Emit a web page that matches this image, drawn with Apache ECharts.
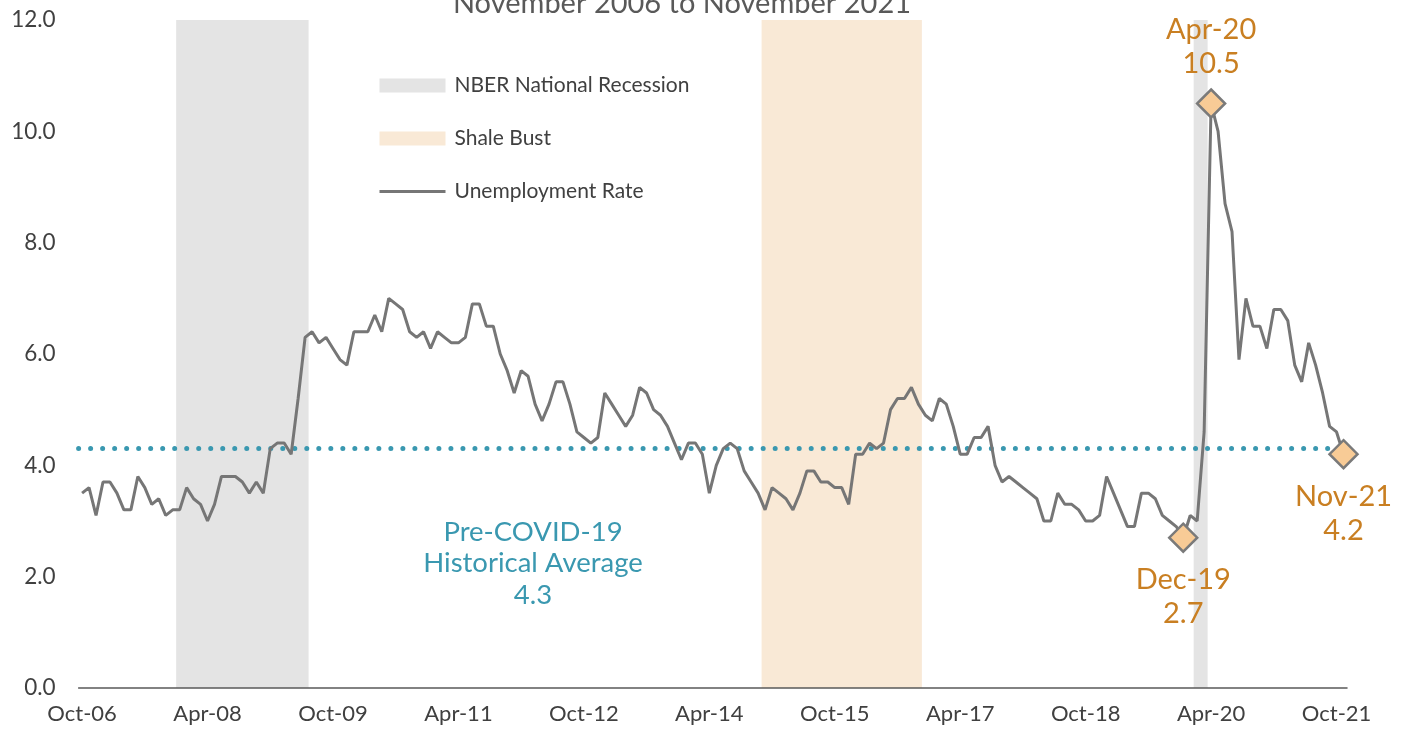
<!DOCTYPE html>
<html>
<head>
<meta charset="utf-8">
<script src="https://cdn.jsdelivr.net/npm/echarts@6/dist/echarts.min.js"></script>
<style>
html,body{margin:0;padding:0;background:#fff;}
#chart{width:1408px;height:730px;}
</style>
</head>
<body>
<div id="chart"></div>
<script>
// ---- data ----
var startYear = 2006, startMonth = 9; // Oct-06 (0-based month)
var monthNames = ['Jan','Feb','Mar','Apr','May','Jun','Jul','Aug','Sep','Oct','Nov','Dec'];
var unemploymentRate = [
  3.5,3.6,3.1,3.7,3.7,3.5,3.2,3.2,3.8,3.6,3.3,3.4,
  3.1,3.2,3.2,3.6,3.4,3.3,3.0,3.3,3.8,3.8,3.8,3.7,
  3.5,3.7,3.5,4.3,4.4,4.4,4.2,5.2,6.3,6.4,6.2,6.3,
  6.1,5.9,5.8,6.4,6.4,6.4,6.7,6.4,7.0,6.9,6.8,6.4,
  6.3,6.4,6.1,6.4,6.3,6.2,6.2,6.3,6.9,6.9,6.5,6.5,
  6.0,5.7,5.3,5.7,5.6,5.1,4.8,5.1,5.5,5.5,5.1,4.6,
  4.5,4.4,4.5,5.3,5.1,4.9,4.7,4.9,5.4,5.3,5.0,4.9,
  4.7,4.4,4.1,4.4,4.4,4.2,3.5,4.0,4.3,4.4,4.3,3.9,
  3.7,3.5,3.2,3.6,3.5,3.4,3.2,3.5,3.9,3.9,3.7,3.7,
  3.6,3.6,3.3,4.2,4.2,4.4,4.3,4.4,5.0,5.2,5.2,5.4,
  5.1,4.9,4.8,5.2,5.1,4.7,4.2,4.2,4.5,4.5,4.7,4.0,
  3.7,3.8,3.7,3.6,3.5,3.4,3.0,3.0,3.5,3.3,3.3,3.2,
  3.0,3.0,3.1,3.8,3.5,3.2,2.9,2.9,3.5,3.5,3.4,3.1,
  3.0,2.9,2.7,3.1,3.0,4.6,10.5,10.0,8.7,8.2,5.9,7.0,
  6.5,6.5,6.1,6.8,6.8,6.6,5.8,5.5,6.2,5.8,5.3,4.7,
  4.6,4.2
];
var preCovidAverage = 4.3;
var nberRecessions = [['Dec-07','Jun-09'], ['Feb-20','Mar-20']];
var shaleBust = [['Dec-14','Oct-16']];
var highlightMonths = [
  {month:'Apr-20', pos:'top'},
  {month:'Dec-19', pos:'bottom'},
  {month:'Nov-21', pos:'bottom'}
];
var yTicks = {min:0, max:12, interval:2};
var titleText = 'November 2006 to November 2021';

// ---- categories ----
var months = [];
for (var i = 0; i < unemploymentRate.length; i++) {
  var m = (startMonth + i) % 12;
  var y = startYear + Math.floor((startMonth + i) / 12);
  months.push(monthNames[m] + '-' + String(y % 100).padStart(2, '0'));
}
function spans(list){
  return list.map(function(p){ return [months.indexOf(p[0]), months.indexOf(p[1]) + 1]; });
}

var FONT = 'Lato';
var TEAL = '#3A98B0';
var ORANGE = '#C97F22';
var LINE = '#767676';
var TXT = '#404040';

function shadeRender(color){
  return function(params, api){
    var a = api.coord([api.value(0), yTicks.max]);
    var b = api.coord([api.value(1), yTicks.min]);
    return {type:'rect', shape:{x:a[0], y:a[1], width:b[0]-a[0], height:b[1]-a[1]}, style:{fill:color}};
  };
}

var chart = echarts.init(document.getElementById('chart'), null, {renderer:'canvas'});
chart.setOption({
  animation:false,
  textStyle:{fontFamily:FONT},
  grid:{left:78.6, right:61, top:20, bottom:42, containLabel:false},
  graphic:[
    {type:'text', z:10,
     style:{text:titleText, x:682, y:-11, textAlign:'center', fill:'#595959', fontSize:29, fontFamily:FONT}},
    {type:'text', z:10,
     style:{text:'Pre-COVID-19\nHistorical Average\n' + preCovidAverage.toFixed(1), x:533, y:516,
            textAlign:'center', fill:TEAL, fontSize:27.5, fontFamily:FONT, lineHeight:31.5}}
  ],
  legend:{
    orient:'vertical', left:378, top:75, padding:0, itemWidth:66, itemHeight:14, itemGap:32,
    textStyle:{fontSize:21, color:TXT, fontFamily:FONT, padding:[0,0,0,4]},
    data:[
      {name:'NBER National Recession', icon:'rect'},
      {name:'Shale Bust', icon:'rect'},
      {name:'Unemployment Rate', itemStyle:{opacity:0}, lineStyle:{color:LINE, width:3}}
    ]
  },
  xAxis:[
    {type:'category', data:months, boundaryGap:true,
     axisLine:{lineStyle:{color:'#595959', width:1.5}},
     axisTick:{interval:17, length:7, lineStyle:{color:'#595959', width:1.5}},
     axisLabel:{interval:17, fontSize:22, color:TXT, fontFamily:FONT, margin:15}},
    {type:'value', min:0, max:months.length, show:false}
  ],
  yAxis:{
    type:'value', min:yTicks.min, max:yTicks.max, interval:yTicks.interval,
    axisLine:{show:false}, axisTick:{show:false}, splitLine:{show:false},
    axisLabel:{fontSize:22.5, color:TXT, fontFamily:FONT, margin:23,
               formatter:function(v){ return v.toFixed(1); }}
  },
  series:[
    {name:'NBER National Recession', type:'custom', xAxisIndex:1, z:0,
     itemStyle:{color:'#E4E4E4'}, encode:{x:[0,1]},
     renderItem:shadeRender('#E4E4E4'), data:spans(nberRecessions)},
    {name:'Shale Bust', type:'custom', xAxisIndex:1, z:0,
     itemStyle:{color:'#F9E9D6'}, encode:{x:[0,1]},
     renderItem:shadeRender('#F9E9D6'), data:spans(shaleBust)},
    {name:'Unemployment Rate', type:'line', data:unemploymentRate, z:3,
     symbol:'none', lineStyle:{color:LINE, width:3}, itemStyle:{color:LINE},
     markLine:{silent:true, symbol:'none', z:2,
       lineStyle:{color:TEAL, width:5, type:[0.01,12], cap:'round'},
       label:{show:false}, emphasis:{disabled:true},
       data:[{yAxis:preCovidAverage}]},
     markPoint:{
       symbol:'diamond', symbolSize:[28,28], z:5,
       itemStyle:{color:'#F8CB96', borderColor:'#7A7A7A', borderWidth:2.5},
       label:{show:true, color:ORANGE, fontSize:29, fontFamily:FONT, lineHeight:34,
              formatter:function(p){ return p.name + '\n' + p.value.toFixed(1); }},
       data:highlightMonths.map(function(h){
         var idx = months.indexOf(h.month);
         return {name:h.month, coord:[h.month, unemploymentRate[idx]], value:unemploymentRate[idx],
                 label:{position:h.pos, distance:h.pos==='top'?8:10}};
       })
     }}
  ]
});
</script>
</body>
</html>
